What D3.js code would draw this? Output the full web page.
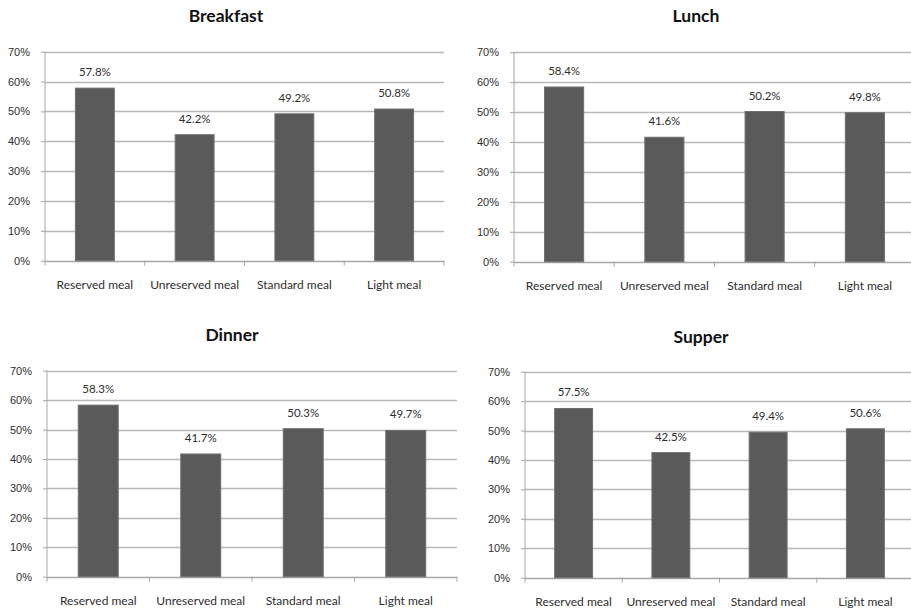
<!DOCTYPE html>
<html>
<head>
<meta charset="utf-8">
<script src="https://cdn.jsdelivr.net/npm/d3@7"></script>
<style>
  body { margin: 0; background: #fff; }
  svg { display: block; font-family: Lato, "Open Sans", sans-serif; }
  .axis path, .axis line { stroke: #a6a6a6; }
  .axis text { fill: #2e2e2e; font-size: 11px; }
</style>
</head>
<body>
<div class="graph-container"></div>
<script>
// data
var meals = ['Breakfast', 'Lunch', 'Dinner', 'Supper']
var categories = ['Reserved meal', 'Unreserved meal', 'Standard meal', 'Light meal']
var breakfast = [57.8, 42.2, 49.2, 50.8]
var lunch = [58.4, 41.6, 50.2, 49.8]
var dinner = [58.3, 41.7, 50.3, 49.7]
var supper = [57.5, 42.5, 49.4, 50.6]
var yTicks = [0, 10, 20, 30, 40, 50, 60, 70]
var seriesByMeal = [breakfast, lunch, dinner, supper]

// panel layout (axis x, right end, top/bottom of plot, title position)
var panels = [
  {x0: 45, x1: 444, top: 51.7, bottom: 260.7, tx: 226, ty: 22},
  {x0: 514, x1: 915, top: 52.3, bottom: 261.7, tx: 696, ty: 22},
  {x0: 47, x1: 457, top: 370.7, bottom: 576.7, tx: 232, ty: 341},
  {x0: 525, x1: 914, top: 371.7, bottom: 577.7, tx: 701, ty: 343}
]

var svg = d3.select(".graph-container").append("svg")
    .attr("width", 911)
    .attr("height", 612)

panels.forEach(function(p, i) {
  var values = seriesByMeal[i]
  var data = categories.map((c, j) => ({cat: c, v: values[j]}))

  var x = d3.scaleBand()
      .domain(categories)
      .range([p.x0, p.x1])
      .padding(0)
  var y = d3.scaleLinear()
      .domain([0, 70])
      .range([p.bottom, p.top])

  var g = svg.append("g")

  // title
  g.append("text")
    .attr("x", p.tx)
    .attr("y", p.ty)
    .attr("text-anchor", "middle")
    .style("font-weight", "bold")
    .style("font-size", "17.5px")
    .style("fill", "#111")
    .text(meals[i])

  // gridlines
  g.selectAll(".grid")
    .data(yTicks.filter(d => d > 0))
    .enter().append("line")
    .attr("class", "grid")
    .attr("x1", p.x0)
    .attr("x2", p.x1)
    .attr("y1", d => Math.round(y(d)) + 0.5)
    .attr("y2", d => Math.round(y(d)) + 0.5)
    .attr("stroke", "#b8b8b8")
    .attr("stroke-width", 1.4)

  // y axis
  g.append("g")
    .attr("class", "axis")
    .attr("transform", "translate(" + p.x0 + ",0)")
    .call(d3.axisLeft(y).tickValues(yTicks).tickFormat(d => d + "%").tickSize(4).tickPadding(11))
    .call(a => a.select(".domain").attr("d", "M0," + p.top + "V" + p.bottom))

  // x axis line and boundary ticks
  g.append("line")
    .attr("x1", p.x0)
    .attr("x2", p.x1)
    .attr("y1", Math.round(p.bottom) + 0.5)
    .attr("y2", Math.round(p.bottom) + 0.5)
    .attr("stroke", "#a6a6a6")
    .attr("stroke-width", 1.4)

  var edges = categories.map(c => x(c)).concat([p.x1])
  g.selectAll(".xtick")
    .data(edges)
    .enter().append("line")
    .attr("class", "xtick")
    .attr("x1", d => d)
    .attr("x2", d => d)
    .attr("y1", p.bottom)
    .attr("y2", p.bottom + 5)
    .attr("stroke", "#a6a6a6")

  // category labels
  g.selectAll(".cat")
    .data(categories)
    .enter().append("text")
    .attr("class", "cat")
    .attr("x", d => x(d) + x.bandwidth() / 2)
    .attr("y", p.bottom + 28.5)
    .attr("text-anchor", "middle")
    .style("font-size", "12px")
    .style("fill", "#2e2e2e")
    .text(d => d)

  // bars
  var bw = x.bandwidth() * 0.39
  g.selectAll(".bar")
    .data(data)
    .enter().append("rect")
    .attr("class", "bar")
    .attr("x", d => x(d.cat) + x.bandwidth() / 2 - bw / 2)
    .attr("y", d => y(d.v))
    .attr("width", bw)
    .attr("height", d => y(0) - y(d.v))
    .attr("fill", "#5a5a5a")
    .attr("stroke", "#6e6e6e")
    .attr("stroke-width", 1)

  // value labels
  g.selectAll(".val")
    .data(data)
    .enter().append("text")
    .attr("class", "val")
    .attr("x", d => x(d.cat) + x.bandwidth() / 2)
    .attr("y", d => y(d.v) - 12)
    .attr("text-anchor", "middle")
    .style("font-size", "11.5px")
    .style("fill", "#2e2e2e")
    .text(d => d.v.toFixed(1) + "%")
})
</script>
</body>
</html>
